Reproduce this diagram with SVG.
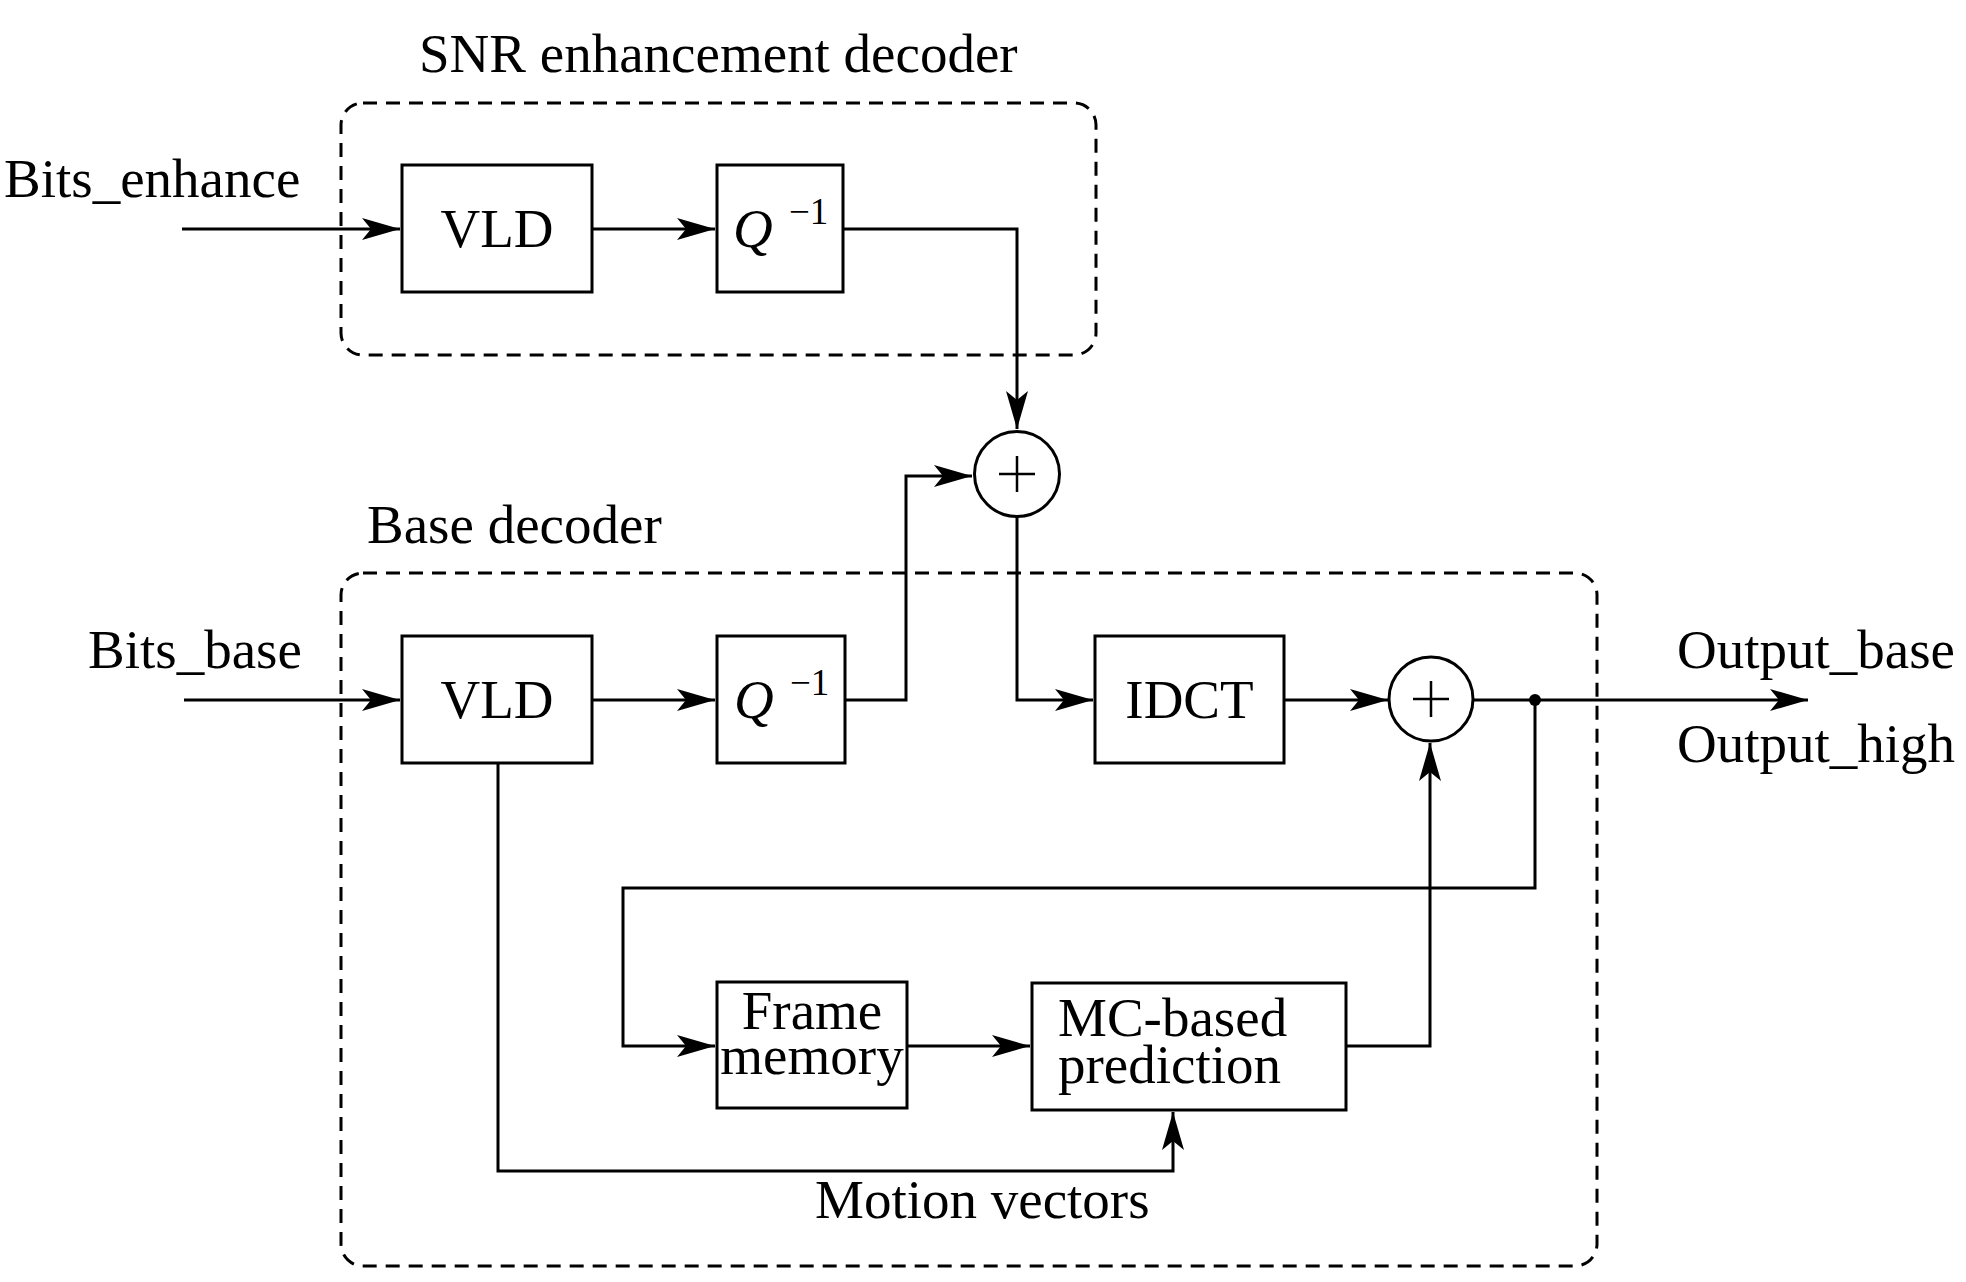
<svg xmlns="http://www.w3.org/2000/svg" width="1966" height="1282" viewBox="0 0 1966 1282">
<style>
text{font-family:"Liberation Serif","Times New Roman",serif;font-size:55px;fill:#000}
.box{fill:#fff;stroke:#000;stroke-width:3}
.grp{fill:none;stroke:#000;stroke-width:3;stroke-dasharray:14 9}
.ln{fill:none;stroke:#000;stroke-width:3}
.sum{fill:#fff;stroke:#000;stroke-width:3}
.plus{stroke:#000;stroke-width:2.5}
.sup{font-size:37px}
.it{font-style:italic}
</style>
<defs>
<marker id="arr" markerUnits="userSpaceOnUse" markerWidth="40" markerHeight="24" refX="38" refY="11" orient="auto">
<path d="M0,0 L38,11 L0,22 L9,11 z" fill="#000"/>
</marker>
</defs>
<rect fill="#fff" width="1966" height="1282"/>

<g id="enhance-group">
<rect class="grp" x="341" y="103" width="755" height="252" rx="22"/>
<text x="419" y="72">SNR enhancement decoder</text>
</g>
<g id="base-group">
<rect class="grp" x="341" y="573" width="1256" height="693" rx="22"/>
<text x="367" y="543">Base decoder</text>
</g>

<g id="labels">
<text x="4" y="197">Bits_enhance</text>
<text x="88" y="668">Bits_base</text>
<text x="1677" y="668">Output_base</text>
<text x="1677" y="762">Output_high</text>
<text x="815" y="1218">Motion vectors</text>
</g>

<g id="connectors">
<path class="ln" d="M182,229 H400" marker-end="url(#arr)"/>
<path class="ln" d="M592,229 H715" marker-end="url(#arr)"/>
<path class="ln" d="M843,229 H1017 V429" marker-end="url(#arr)"/>
<path class="ln" d="M184,700 H400" marker-end="url(#arr)"/>
<path class="ln" d="M592,700 H715" marker-end="url(#arr)"/>
<path class="ln" d="M845,700 H906 V476 H972" marker-end="url(#arr)"/>
<path class="ln" d="M1017,516 V700 H1093" marker-end="url(#arr)"/>
<path class="ln" d="M1284,700 H1388" marker-end="url(#arr)"/>
<path class="ln" d="M1473,700 H1808" marker-end="url(#arr)"/>
<path class="ln" d="M1535,700 V888 H623 V1046 H715" marker-end="url(#arr)"/>
<path class="ln" d="M907,1046 H1030" marker-end="url(#arr)"/>
<path class="ln" d="M1346,1046 H1430 V743" marker-end="url(#arr)"/>
<path class="ln" d="M498,763 V1171 H1173 V1112" marker-end="url(#arr)"/>
<circle cx="1535" cy="700" r="6" fill="#000"/>
</g>

<g id="vld-enh">
<rect class="box" x="402" y="165" width="190" height="127"/>
<text x="497" y="247" text-anchor="middle">VLD</text>
</g>
<g id="q-enh">
<rect class="box" x="717" y="165" width="126" height="127"/>
<text x="733" y="247" class="it">Q</text>
<text x="789" y="224" class="sup">−1</text>
</g>
<g id="sum1">
<circle class="sum" cx="1017" cy="474" r="42.5"/>
<path class="plus" d="M999,474 H1035 M1017,456 V492"/>
</g>
<g id="vld-base">
<rect class="box" x="402" y="636" width="190" height="127"/>
<text x="497" y="718" text-anchor="middle">VLD</text>
</g>
<g id="q-base">
<rect class="box" x="717" y="636" width="128" height="127"/>
<text x="734" y="718" class="it">Q</text>
<text x="790" y="695" class="sup">−1</text>
</g>
<g id="idct">
<rect class="box" x="1095" y="636" width="189" height="127"/>
<text x="1189.5" y="718" text-anchor="middle">IDCT</text>
</g>
<g id="sum2">
<circle class="sum" cx="1431" cy="699" r="42"/>
<path class="plus" d="M1413,699 H1449 M1431,681 V717"/>
</g>
<g id="frame-memory">
<rect class="box" x="717" y="982" width="190" height="126"/>
<text x="812" y="1029" text-anchor="middle">Frame</text>
<text x="812" y="1074" text-anchor="middle">memory</text>
</g>
<g id="mc-prediction">
<rect class="box" x="1032" y="983" width="314" height="127"/>
<text x="1058" y="1036">MC-based</text>
<text x="1058" y="1083">prediction</text>
</g>
</svg>
